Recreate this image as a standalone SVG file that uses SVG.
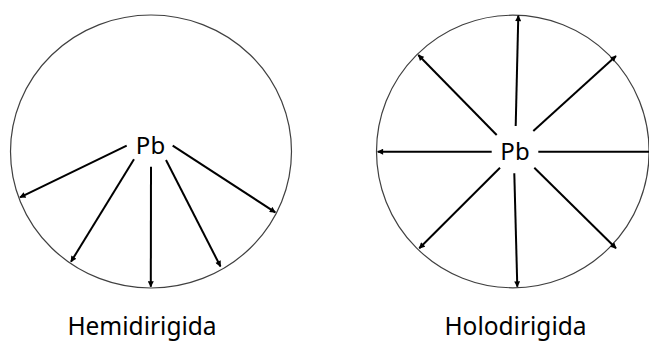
<svg xmlns="http://www.w3.org/2000/svg" width="649" height="342" viewBox="0 0 649 342">
  <style>
    .ring { fill: none; stroke: #404040; stroke-width: 1.2; }
    .arrow { stroke: #000; stroke-width: 2; fill: none; marker-end: url(#ah); }
    .plain { stroke: #000; stroke-width: 2; fill: none; }
    .pb { font-family: "Noto Sans", "Open Sans", sans-serif; font-size: 24px; fill: #000; text-anchor: middle; }
    .label { font-family: "Noto Sans", "Open Sans", sans-serif; font-size: 24.5px; fill: #000; text-anchor: middle; }
  </style>
  <defs>
    <marker id="ah" viewBox="0 0 10 10" refX="9" refY="5" markerWidth="3.5" markerHeight="3" orient="auto" markerUnits="strokeWidth">
      <path d="M0,0 L10,5 L0,10 z" fill="#000"/>
    </marker>
  </defs>
  <rect width="649" height="342" fill="#fff"/>

  <g id="hemidirigida">
    <ellipse class="ring" cx="151" cy="151.5" rx="140.5" ry="136.5"/>
    <text class="pb" x="150.5" y="154">Pb</text>
    <text class="label" x="142" y="335">Hemidirigida</text>
  </g>

  <g id="holodirigida">
    <circle class="ring" cx="512.8" cy="151.5" r="136.3"/>
    <text class="pb" x="515" y="159.5">Pb</text>
    <text class="label" x="515.5" y="335">Holodirigida</text>
  </g>

  <g id="connectors">
    <line class="arrow" x1="126.7" y1="145.7" x2="20" y2="197.3"/>
    <line class="arrow" x1="134" y1="159.3" x2="71" y2="261.7"/>
    <line class="arrow" x1="151" y1="166.7" x2="150.8" y2="286.7"/>
    <line class="arrow" x1="166" y1="160" x2="220.5" y2="266.5"/>
    <line class="arrow" x1="172.7" y1="145.7" x2="275.3" y2="212.3"/>

    <line class="arrow" x1="515.7" y1="126" x2="518.3" y2="15.7"/>
    <line class="arrow" x1="533.3" y1="131" x2="616" y2="56"/>
    <line class="arrow" x1="496.7" y1="135" x2="418.3" y2="55"/>
    <line class="arrow" x1="491.7" y1="151.7" x2="377.7" y2="151.7"/>
    <line class="plain" x1="538.3" y1="151.7" x2="650" y2="151.7"/>
    <line class="arrow" x1="500" y1="167.7" x2="419.3" y2="248.3"/>
    <line class="arrow" x1="514.3" y1="173.3" x2="517.3" y2="286.7"/>
    <line class="arrow" x1="534.3" y1="167.7" x2="616" y2="248.3"/>
  </g>
</svg>
